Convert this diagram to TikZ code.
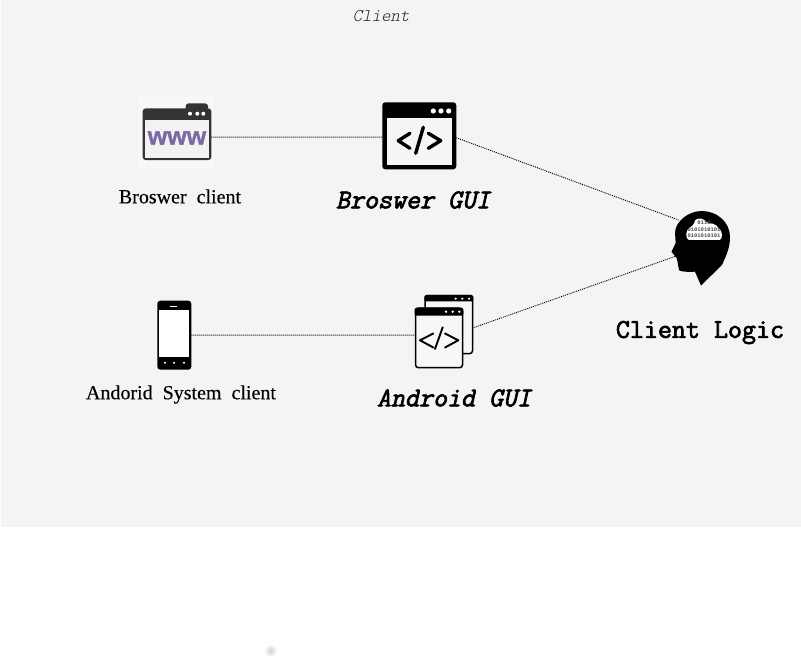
\documentclass[tikz,border=0pt]{standalone}
\usepackage{fontspec}
\setmainfont{Liberation Serif}[FakeBold=0.25]
\newfontfamily\iconsans{Liberation Sans Bold}[FakeBold=1.2]
\newfontfamily\binfont{Liberation Mono}
\newfontfamily\logicfont{Latin Modern Mono}[FakeBold=2.6]
\newfontfamily\guifont{Latin Modern Mono}[FakeBold=2.6,FakeSlant=0.22]
\newfontfamily\titlefont{Latin Modern Mono Light}[FakeSlant=0.22]
\definecolor{panel}{HTML}{F4F4F4}
\definecolor{wwwpurple}{HTML}{7B69A5}
\definecolor{wwwdark}{HTML}{333333}
\tikzset{
  link/.style={draw=black,line width=0.9pt,dash pattern=on 1pt off 1pt},
  clientlabel/.style={font=\fontsize{20}{22}\selectfont,inner sep=0pt},
  guilabel/.style={font=\fontsize{27.2}{29}\selectfont\guifont,inner sep=0pt},
  logiclabel/.style={font=\fontsize{27.2}{29}\selectfont\logicfont,inner sep=0pt},
  winbox/.style={draw=none,fill=black,rounded corners=3pt,inner sep=0pt,outer sep=0pt},
  dotwhite/.style={fill=white,draw=none},
  codestroke/.style={draw=black,line cap=round,line join=round},
}
\begin{document}
\begin{tikzpicture}[x=1pt,y=-1pt]
\useasboundingbox (0,0) rectangle (801,660);
\fill[white] (0,0) rectangle (801,660);
\fill[panel] (1,0) rectangle (801,527);
% faint blot at the bottom
\foreach \r/\c in {6/97,5/94,4/91,3/88,2/85}{\fill[black!\the\numexpr 100-\c\relax] (271,651) circle[radius=\r pt];}
\node[font=\fontsize{18}{20}\selectfont\titlefont,text=black!85,inner sep=0pt] (clienttitle) at (381,16) {Client};

% browser client icon
\fill[black!3] (138,95) rectangle (214,168);
\node[winbox,fill=wwwdark,minimum width=68.6pt,minimum height=51.7pt] (wwwicon) at (177,134.2) {};
\fill[wwwdark,rounded corners=3pt] (185.7,112) -- (185.7,103.3) -- (208,103.3) -- (208,112) -- cycle;
\fill[black!5] (144.8,120) rectangle (209.2,157.6);
\node[font=\fontsize{25}{27}\selectfont\iconsans,text=wwwpurple,inner sep=0pt] (wwwtext) at (177,138) {www};
\foreach \x in {190,197.3,203.3}{\fill[dotwhite] (\x,113.7) circle[radius=2pt];}

% browser GUI icon
\node[winbox,minimum width=74pt,minimum height=67pt] (gui) at (419.3,135.8) {};
\fill[black!4] (387.3,118.3) rectangle (451.7,165);
\foreach \x in {433.3,441,448.7}{\fill[dotwhite] (\x,111) circle[radius=2.6pt];}
\draw[codestroke,line width=3.4pt] (410,133.3) -- (398.3,140.7) -- (410,148.3);
\draw[codestroke,line width=3.4pt] (428.3,133.3) -- (440.7,140.7) -- (428.3,148.3);
\draw[codestroke,line width=3.4pt] (423.3,127.3) -- (415.7,153.3);

% phone icon
\node[winbox,minimum width=34pt,minimum height=69pt] (phone) at (174.3,335.2) {};
\fill[white] (159.3,310) rectangle (189,357.3);
\draw[white,line width=0.9pt] (169.5,306.3) -- (177.3,306.3);
\foreach \x in {165,174,184}{\fill[dotwhite] (\x,362.7) circle[radius=1.1pt];}

% android GUI icon
\node[winbox,draw=black,fill=black!3,line width=1.5pt,minimum width=47.5pt,minimum height=58pt] (guiback) at (448.8,324.7) {};
\fill[black,rounded corners=1.5pt] (424.3,295) rectangle (473.3,301.5);
\foreach \x in {455.7,462.3,469}{\fill[dotwhite] (\x,298.7) circle[radius=1.2pt];}
\node[winbox,draw=black,fill=black!3,line width=1.5pt,minimum width=47pt,minimum height=59.5pt] (guifront) at (439,338) {};
\fill[black,rounded corners=1.5pt] (414.7,307.7) rectangle (463.3,315.7);
\foreach \x in {446,452.7,459.3}{\fill[dotwhite] (\x,311.7) circle[radius=1.3pt];}
\draw[codestroke,line width=1.9pt] (433.3,333.5) -- (420,340.3) -- (433.3,347.5);
\draw[codestroke,line width=1.9pt] (445,333.5) -- (458.3,340.3) -- (445,347.5);
\draw[codestroke,line width=1.9pt] (442.7,327.3) -- (435,349);

% head icon
\node[circle,minimum size=60pt,inner sep=0pt,outer sep=0pt] (head) at (702,240) {};
\fill[black]
  (701,285.5) -- (695,271.7)
  .. controls (690,272) and (684,272) .. (679.5,270.7)
  .. controls (678,268) and (678,262) .. (676.7,258.3)
  -- (671.5,251.7) -- (675.7,243) -- (675,233)
  .. controls (675,222) and (688,211) .. (701.7,211)
  .. controls (717,211) and (730,222) .. (730,237)
  .. controls (730,248) and (726,256) .. (722,265)
  -- cycle;
\fill[white,rounded corners=2pt] (687,240) -- (686,232) -- (690,227) -- (694,225) -- (695,219) -- (703,218.5) -- (707,223) -- (715,224) -- (722,232) -- (721.5,240) -- cycle;
\node[font=\fontsize{5.5}{6.5}\selectfont\binfont\bfseries,text=black!70,align=center,inner sep=0pt] (binary) at (704,229.5) {0110\\0101010101\\0101010101};

% connectors
\draw[link] (wwwicon.-5) -- (gui.-178);
\draw[link] (gui.-3) -- (head.139);
\draw[link] (phone.east) -- (guifront.173);
\draw[link] (guiback.-8) -- (head.212);

% labels
\node[clientlabel] (browserlabel) at (180,196.5) {Broswer\ \ client};
\node[clientlabel] (androidlabel) at (181,394.5) {Andorid\ \ System\ \ client};
\node[guilabel] (browsergui) at (413,200) {Broswer GUI};
\node[guilabel] (androidgui) at (454,398) {Android GUI};
\node[logiclabel] (logic) at (700,332.5) {Client Logic};
\end{tikzpicture}
\end{document}
